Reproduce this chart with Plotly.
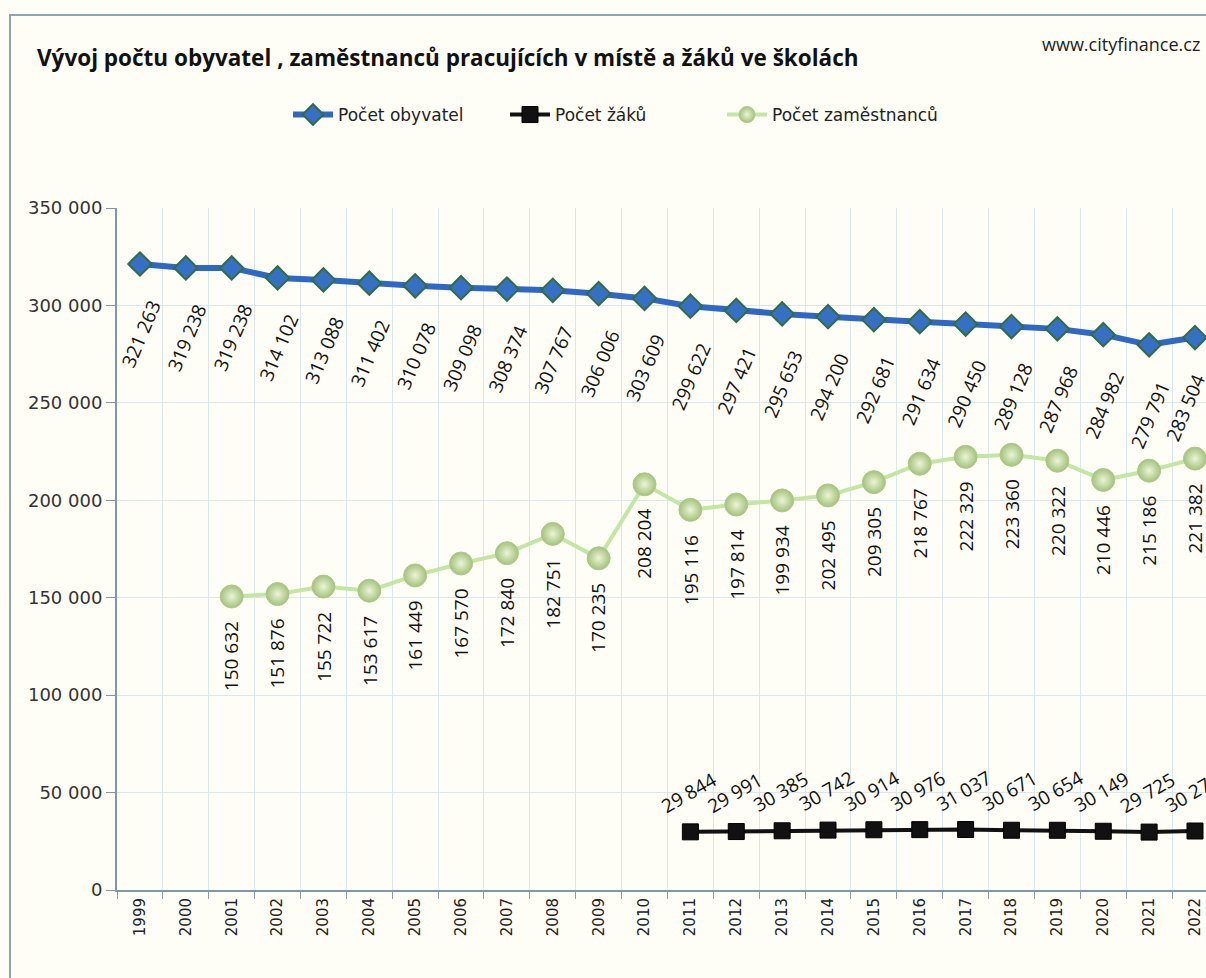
import plotly.graph_objects as go

years = [str(y) for y in range(1999, 2023)]

obyvatel = [321263, 319238, 319238, 314102, 313088, 311402, 310078, 309098, 308374,
            307767, 306006, 303609, 299622, 297421, 295653, 294200, 292681, 291634,
            290450, 289128, 287968, 284982, 279791, 283504]

zamestnancu = [None, None, 150632, 151876, 155722, 153617, 161449, 167570, 172840,
               182751, 170235, 208204, 195116, 197814, 199934, 202495, 209305, 218767,
               222329, 223360, 220322, 210446, 215186, 221382]

zaku = [None] * 12 + [29844, 29991, 30385, 30742, 30914, 30976, 31037, 30671,
                      30654, 30149, 29725, 30272]

title_text = "Vývoj počtu obyvatel , zaměstnanců pracujících v místě a žáků ve školách"
site_text = "www.cityfinance.cz"

W, H = 1206, 978
L, R, T, B = 117, 0, 208, 88
PW = W - L - R
PH = H - T - B


def px(xp):
    return (xp - L) / PW


def py(yp):
    return (H - B - yp) / PH


def fmt(v):
    return f"{v:,}".replace(",", " ")


fig = go.Figure()

fig.add_trace(go.Scatter(
    x=years, y=obyvatel, name="Počet obyvatel", mode="lines+markers",
    line=dict(color="#2f68c4", width=6),
    marker=dict(symbol="diamond", size=18, color="#3570c4",
                line=dict(color="#2f6e45", width=2)),
    cliponaxis=False,
))
fig.add_trace(go.Scatter(
    x=years, y=zaku, name="Počet žáků", mode="lines+markers",
    line=dict(color="#111111", width=4),
    marker=dict(symbol="square", size=16, color="#111111",
                line=dict(color="#000000", width=1)),
    cliponaxis=False,
))
fig.add_trace(go.Scatter(
    x=years, y=zamestnancu, name="Počet zaměstnanců", mode="lines+markers",
    line=dict(color="#c3e6a3", width=4),
    marker=dict(symbol="circle", size=23, color="#a3c27a",
                gradient=dict(type="radial", color="#ebf5d8"),
                line=dict(color="#adc98a", width=1)),
    cliponaxis=False,
))

annotations = []
lab_font = dict(family="Open Sans", size=19, color="#111111")
n_last = len(obyvatel) - 1
for i, v in enumerate(obyvatel):
    annotations.append(dict(x=i, y=v, xref="x", yref="y", text=fmt(v), showarrow=False,
                            textangle=-67, xanchor="center", yanchor="middle",
                            yshift=-70, xshift=(-10 if i == n_last else 1), font=lab_font))
for i, v in enumerate(zamestnancu):
    if v is None:
        continue
    annotations.append(dict(x=i, y=v, xref="x", yref="y", text=fmt(v), showarrow=False,
                            textangle=-90, xanchor="center", yanchor="middle",
                            yshift=-60, xshift=0, font=lab_font))
for i, v in enumerate(zaku):
    if v is None:
        continue
    annotations.append(dict(x=i, y=v, xref="x", yref="y", text=fmt(v), showarrow=False,
                            textangle=-30, xanchor="center", yanchor="middle",
                            yshift=39, xshift=-2, font=lab_font))

annotations.append(dict(x=px(35), y=py(58), xref="paper", yref="paper", text="<b>" + title_text + "</b>",
                        showarrow=False, xanchor="left", yanchor="middle",
                        font=dict(family="Open Sans", size=22.5, color="#111111")))
annotations.append(dict(x=px(1202), y=py(44), xref="paper", yref="paper", text=site_text,
                        showarrow=False, xanchor="right", yanchor="middle",
                        font=dict(family="Open Sans", size=18, color="#222222")))

fig.update_layout(
    width=W, height=H,
    margin=dict(l=L, r=R, t=T, b=B),
    paper_bgcolor="#fffef6", plot_bgcolor="#fffef6",
    separators=", ",
    showlegend=True,
    legend=dict(orientation="h", x=px(288), y=py(115), xanchor="left", yanchor="middle",
                font=dict(family="DejaVu Sans", size=17, color="#222222"),
                bgcolor="rgba(0,0,0,0)", itemwidth=40,
                entrywidth=162, entrywidthmode="pixels"),
    annotations=annotations,
    shapes=[dict(type="rect", xref="paper", yref="paper",
                 x0=px(10), x1=px(1215), y0=py(990), y1=py(15),
                 line=dict(color="#8ea3b3", width=2), fillcolor="rgba(0,0,0,0)", layer="below")],
    xaxis=dict(type="category", range=[-0.5, 23.24], tickson="boundaries",
               showgrid=True, gridcolor="#dbe7ee", gridwidth=1,
               ticks="outside", ticklen=7, tickcolor="#8aa0b0",
               showline=True, linecolor="#7f97a8", linewidth=2,
               tickangle=-90, tickfont=dict(family="DejaVu Sans", size=15, color="#222222"),
               zeroline=False),
    yaxis=dict(range=[0, 350000], dtick=50000, tickformat=",d",
               showgrid=True, gridcolor="#dbe7ee", gridwidth=1,
               ticks="outside", ticklen=9, tickcolor="#7f97a8",
               showline=True, linecolor="#7f97a8", linewidth=2,
               tickfont=dict(family="DejaVu Sans", size=18, color="#333333"),
               zeroline=False),
    hovermode=False,
)

fig.write_html("out.html", config={"displayModeBar": False},
               post_script="document.body.style.margin='0';document.body.style.overflow='hidden';")
